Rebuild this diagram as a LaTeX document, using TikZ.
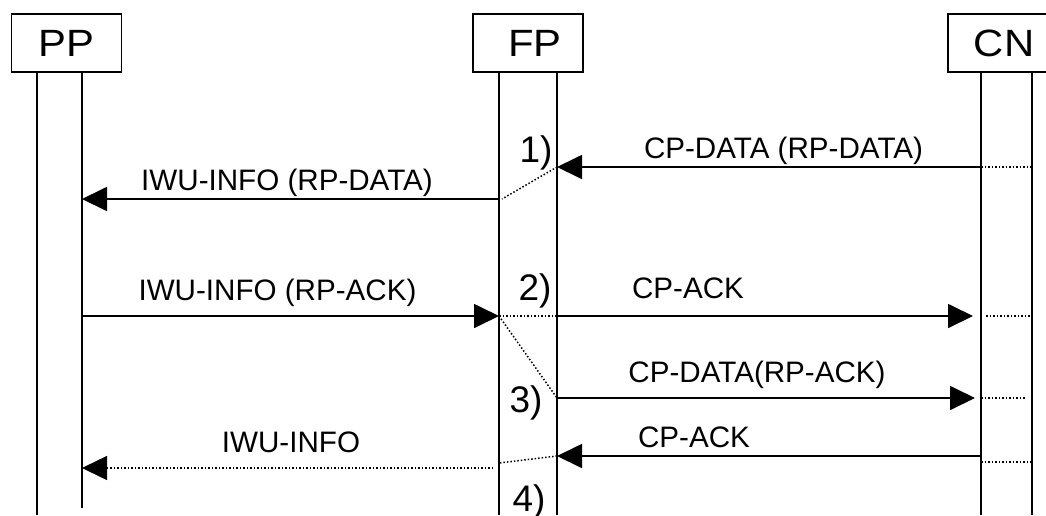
\documentclass[tikz,border=0pt]{standalone}
\usepackage{fontspec}
\setmainfont{Liberation Sans}
\newfontfamily\boxfont[FakeStretch=1.1]{Liberation Sans}
\usetikzlibrary{
		calc,
		positioning,
		arrows.meta
	}
\tikzset{
		>={Triangle[length=25pt,width=24pt]},
		entity/.style={draw=\ldraw, line width=1.8pt, minimum width=110pt, minimum height=58pt,
			inner sep=0pt, font=\boxfont\fontsize{38}{42}\selectfont},
		life/.style={draw=\ldraw, line width=1.8pt},
		msg/.style={draw=\ldraw, line width=1.8pt, ->},
		hint/.style={draw=\ldraw, line width=1.5pt, dash pattern=on 1.5pt off 2pt},
		lbl/.style={anchor=base, inner sep=0pt, font=\fontsize{29.6}{34}\selectfont},
		numlbl/.style={anchor=base, inner sep=0pt, font=\fontsize{37}{42}\selectfont}
	}
\newcommand{\ldraw}{black}

\begin{document}
\begin{tikzpicture}[x=1pt,y=-1pt]
		\useasboundingbox (0,0) rectangle (1046,515);
		\node[entity] (pp) at (66.5,43) {PP};
		\node[entity] (fp) at (528,43) {\hspace*{14pt}FP};
		\node[entity, minimum width=112pt] (cn) at (1004,43) {CN};
		% lifelines
		\coordinate (ppL) at (37,72);  \coordinate (ppR) at (82,72);
		\coordinate (fpL) at (499,72); \coordinate (fpR) at (557,72);
		\coordinate (cnL) at (981,72); \coordinate (cnR) at (1032,72);
		\coordinate (bot) at (0,515);
		\foreach \c in {ppL,fpL,fpR,cnL,cnR}
			\draw[life] (\c) -- (\c |- bot);
		\draw[life] (ppR) -- ($(ppR |- bot)+(0,-7)$);
		% message levels
		\coordinate (m1) at (0,167);
		\coordinate (m2) at (0,199);
		\coordinate (m3) at (0,316);
		\coordinate (m4) at (0,398);
		\coordinate (m5) at (0,456);
		\coordinate (m5b) at (0,463);
		\coordinate (m6) at (0,468);
		\coordinate (m7) at (0,462);
		% 1)
		\draw[msg] (cnL |- m1) -- (fpR |- m1);
		\draw[hint] (cnL |- m1) -- (cnR |- m1);
		\draw[hint] (fpR |- m1) -- ($(fpL |- m2)+(3,0)$);
		\draw[msg] (fpL |- m2) -- (ppR |- m2);
		\node[lbl] (l1) at (783.5,158) {CP-DATA (RP-DATA)};
		\node[lbl] (l2) at (287,190) {IWU-INFO (RP-DATA)};
		\node[numlbl] (n1) at (536,162) {1)};
		% 2)
		\draw[msg] (ppR |- m3) -- (fpL |- m3);
		\draw[hint] (fpL |- m3) -- (fpR |- m3);
		\draw[msg, shorten >=8pt] (fpR |- m3) -- (cnL |- m3);
		\draw[hint] ($(cnL |- m3)+(5,0)$) -- (cnR |- m3);
		\node[lbl] (l3) at (277.5,300) {IWU-INFO (RP-ACK)};
		\node[lbl] (l4) at (688,298) {CP-ACK};
		\node[numlbl] (n2) at (535,300) {2)};
		% 3)
		\draw[hint] (fpL |- m3) -- (fpR |- m4);
		\draw[msg, shorten >=6pt] (fpR |- m4) -- (cnL |- m4);
		\draw[hint] (cnL |- m4) -- ($(cnR |- m4)+(-7,0)$);
		\node[lbl] (l5) at (757,382) {CP-DATA(RP-ACK)};
		\node[numlbl] (n3) at (526,412) {3)};
		% 4)
		\draw[msg] (cnL |- m5) -- (fpR |- m5);
		\draw[hint] (cnL |- m7) -- (cnR |- m7);
		\draw[hint] (fpR |- m5) -- (fpL |- m5b);
		\draw[hint, ->] ($(fpL |- m6)+(-6,0)$) -- (ppR |- m6);
		\node[lbl] (l6) at (694,447) {CP-ACK};
		\node[lbl] (l7) at (291,452) {IWU-INFO};
		\node[numlbl] (n4) at (529,511) {4)};
	\end{tikzpicture}
\end{document}
